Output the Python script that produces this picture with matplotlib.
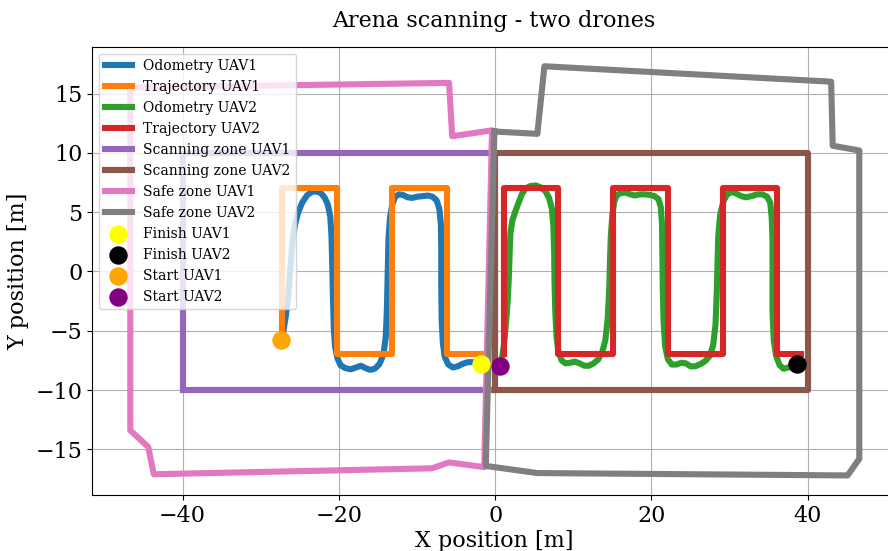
import matplotlib
matplotlib.use("Agg")
import matplotlib.pyplot as plt

plt.rcParams["font.family"] = ["DejaVu Serif"]

# Planned lawnmower paths
traj1_x = [-27.3, -27.3, -20.2, -20.2, -13.2, -13.2, -6.2, -6.2, -1.5]
traj1_y = [-5.8, 7.0, 7.0, -7.0, -7.0, 7.0, 7.0, -7.0, -7.0]
traj2_x = [1.1, 1.1, 8.1, 8.1, 15.1, 15.1, 22.1, 22.1, 29.1, 29.1, 36.1, 36.1, 39.1]
traj2_y = [-7.0, 7.0, 7.0, -7.0, -7.0, 7.0, 7.0, -7.0, -7.0, 7.0, 7.0, -7.0, -7.0]

# Measured odometry
odom1_x = [-27.4, -27.1, -26.8, -26.5, -26.3, -26.1, -25.9, -25.6, -25.2, -24.7, -24.1,
           -23.5, -22.9, -22.3, -21.8, -21.4, -21.1, -20.95, -20.85, -20.75, -20.65, -20.5,
           -20.2, -19.8, -19.2, -18.5, -17.8, -17.2, -16.6, -16.0, -15.4, -14.8, -14.3,
           -14.0, -13.85, -13.75, -13.65, -13.45, -13.15, -12.8, -12.3, -11.8, -11.2, -10.6,
           -10.0, -9.3, -8.6, -8.0, -7.5, -7.15, -6.95, -6.9, -6.9, -6.85, -6.7, -6.45,
           -6.0, -5.4, -4.8, -4.2, -3.5, -2.8, -2.2, -1.75]
odom1_y = [-5.8, -5.0, -3.8, -2.2, -0.5, 1.2, 2.8, 4.0, 5.0, 5.8, 6.4,
           6.7, 6.75, 6.6, 6.2, 5.6, 4.6, 3.0, 0.5, -2.5, -4.8, -6.3,
           -7.3, -7.9, -8.15, -8.25, -8.1, -7.95, -8.15, -8.3, -8.2, -7.8, -7.0,
           -5.5, -3.0, 0.0, 2.8, 4.6, 5.7, 6.3, 6.5, 6.45, 6.25, 6.2,
           6.3, 6.35, 6.4, 6.3, 6.0, 5.3, 4.0, 2.0, -1.0, -4.0, -6.0, -7.2,
           -7.85, -8.1, -8.0, -7.8, -7.65, -7.65, -7.75, -7.8]
odom2_x = [0.6, 0.9, 1.15, 1.4, 1.6, 1.75, 1.85, 1.95, 2.2, 2.6, 3.0, 3.4, 3.9, 4.5, 5.2,
           5.8, 6.4, 6.9, 7.25, 7.45, 7.55, 7.6, 7.7, 7.85, 8.1, 8.5, 9.0, 9.6, 10.2,
           10.8, 11.4, 12.0, 12.6, 13.2, 13.7, 14.1, 14.4, 14.6, 14.7, 14.8, 15.0, 15.25,
           15.6, 16.1, 16.7, 17.3, 17.9, 18.5, 19.2, 19.8, 20.4, 20.9, 21.2, 21.35, 21.4,
           21.45, 21.55, 21.75, 22.1, 22.6, 23.2, 23.8, 24.4, 25.0, 25.6, 26.3, 26.9,
           27.5, 27.9, 28.2, 28.35, 28.45, 28.55, 28.8, 29.2, 29.7, 30.3, 30.9, 31.5,
           32.1, 32.8, 33.5, 34.2, 34.8, 35.2, 35.4, 35.5, 35.5, 35.5, 35.65, 35.95,
           36.4, 36.9, 37.5, 38.1, 38.6]
odom2_y = [-8.0, -7.2, -6.0, -4.3, -2.5, -0.5, 1.5, 3.2, 4.3, 5.1, 5.8, 6.5, 7.0, 7.2, 7.25,
           7.1, 6.8, 6.2, 5.3, 3.8, 1.5, -1.0, -3.5, -5.5, -6.8, -7.5, -7.75, -7.7, -7.6,
           -7.75, -7.95, -7.95, -7.75, -7.4, -6.8, -5.8, -4.0, -1.5, 1.0, 3.0, 4.8, 5.9,
           6.45, 6.6, 6.65, 6.5, 6.4, 6.5, 6.5, 6.45, 6.35, 6.1, 5.4, 4.0, 1.5,
           -1.5, -4.2, -6.3, -7.4, -7.85, -7.85, -7.7, -7.75, -8.0, -8.0, -7.8, -7.55,
           -7.1, -6.2, -4.5, -2.0, 0.5, 3.0, 4.8, 5.9, 6.5, 6.7, 6.55, 6.35,
           6.25, 6.35, 6.5, 6.5, 6.3, 5.8, 4.5, 2.5, -0.5, -3.5, -5.8, -7.1,
           -7.9, -8.2, -8.1, -7.9, -7.8]

# Scanning zones
scan1_x = [-40, 0, 0, -40, -40]
scan1_y = [-10, -10, 10, 10, -10]
scan2_x = [0, 40, 40, 0, 0]
scan2_y = [-10, -10, 10, 10, -10]

# Safe zones
safe1_x = [-46.7, -5.9, -5.5, -0.4, -1.4, -5.9, -8.1, -43.7, -44.4, -46.7, -46.7]
safe1_y = [15.5, 15.9, 11.4, 11.9, -16.5, -16.1, -16.6, -17.1, -14.8, -13.4, 15.5]
safe2_x = [-0.1, 5.4, 6.3, 43.0, 43.2, 46.6, 46.6, 45.1, 5.4, -1.2, -0.1]
safe2_y = [11.8, 11.6, 17.3, 16.0, 10.6, 10.2, -15.8, -17.2, -17.0, -16.4, 11.8]

# Start / finish positions
finish1 = (-1.75, -7.8)
finish2 = (38.6, -7.8)
start1 = (-27.4, -5.8)
start2 = (0.6, -8.0)

fig = plt.figure(figsize=(8.88, 5.51), dpi=100)
ax = fig.add_axes([92 / 888, 56 / 551, 804 / 888, 448.3 / 551])

lw = 4.4
ax.plot(odom1_x, odom1_y, color="tab:blue", lw=lw, label="Odometry UAV1")
ax.plot(traj1_x, traj1_y, color="tab:orange", lw=lw, label="Trajectory UAV1")
ax.plot(odom2_x, odom2_y, color="tab:green", lw=lw, label="Odometry UAV2")
ax.plot(traj2_x, traj2_y, color="tab:red", lw=lw, label="Trajectory UAV2")
ax.plot(scan1_x, scan1_y, color="tab:purple", lw=lw, label="Scanning zone UAV1")
ax.plot(scan2_x, scan2_y, color="tab:brown", lw=lw, label="Scanning zone UAV2")
ax.plot(safe1_x, safe1_y, color="tab:pink", lw=lw, label="Safe zone UAV1")
ax.plot(safe2_x, safe2_y, color="tab:gray", lw=lw, label="Safe zone UAV2")

ms = 150
ax.scatter(*finish1, s=ms, color="yellow", zorder=5, label="Finish UAV1")
ax.scatter(*finish2, s=ms, color="black", zorder=5, label="Finish UAV2")
ax.scatter(*start1, s=ms, color="orange", zorder=5, label="Start UAV1")
ax.scatter(*start2, s=ms, color="purple", zorder=5, label="Start UAV2")

ax.set_xlim(-51.6, 51.3)
ax.set_ylim(-18.85, 18.95)
ax.set_xticks([-40, -20, 0, 20, 40])
ax.set_yticks([-15, -10, -5, 0, 5, 10, 15])
ax.tick_params(labelsize=16)
ax.grid(True)
ax.set_xlabel("X position [m]", fontsize=16, labelpad=2)
ax.set_ylabel("Y position [m]", fontsize=16)
ax.set_title("Arena scanning - two drones", fontsize=16, pad=14)
ax.legend(loc="upper left", fontsize=10)

fig.savefig("out.png", dpi=100)
